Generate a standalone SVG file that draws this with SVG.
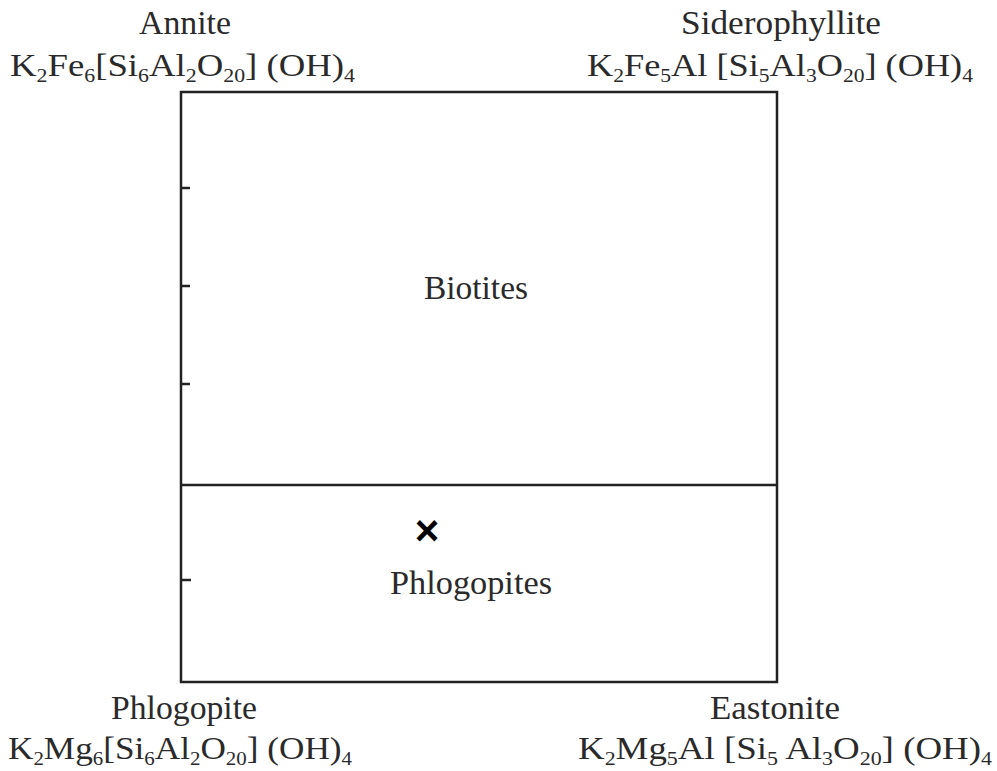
<svg xmlns="http://www.w3.org/2000/svg" width="997" height="771" viewBox="0 0 997 771">
<style>
text{font-family:"Liberation Serif","DejaVu Serif",serif;fill:#2a2a2a;font-size:32px}
.name{text-anchor:middle;font-size:33px}
.s{font-size:19px}
.frame{fill:none;stroke:#222;stroke-width:2.5}
.tick{stroke:#222;stroke-width:2.5}
</style>
<rect width="997" height="771" fill="#fff"/>
<g id="annite">
<text class="name" x="185" y="34" textLength="92" lengthAdjust="spacingAndGlyphs">Annite</text>
<text x="10" y="76" textLength="345" lengthAdjust="spacingAndGlyphs">K<tspan class="s" dy="6">2</tspan><tspan dy="-6">Fe</tspan><tspan class="s" dy="6">6</tspan><tspan dy="-6">[Si</tspan><tspan class="s" dy="6">6</tspan><tspan dy="-6">Al</tspan><tspan class="s" dy="6">2</tspan><tspan dy="-6">O</tspan><tspan class="s" dy="6">20</tspan><tspan dy="-6">] (OH)</tspan><tspan class="s" dy="6">4</tspan></text>
</g>
<g id="siderophyllite">
<text class="name" x="781" y="34" textLength="200" lengthAdjust="spacingAndGlyphs">Siderophyllite</text>
<text x="587" y="76" textLength="386" lengthAdjust="spacingAndGlyphs">K<tspan class="s" dy="6">2</tspan><tspan dy="-6">Fe</tspan><tspan class="s" dy="6">5</tspan><tspan dy="-6">Al [Si</tspan><tspan class="s" dy="6">5</tspan><tspan dy="-6">Al</tspan><tspan class="s" dy="6">3</tspan><tspan dy="-6">O</tspan><tspan class="s" dy="6">20</tspan><tspan dy="-6">] (OH)</tspan><tspan class="s" dy="6">4</tspan></text>
</g>
<g id="phlogopite">
<text class="name" x="184" y="719" textLength="146" lengthAdjust="spacingAndGlyphs">Phlogopite</text>
<text x="8" y="759" textLength="344" lengthAdjust="spacingAndGlyphs">K<tspan class="s" dy="6">2</tspan><tspan dy="-6">Mg</tspan><tspan class="s" dy="6">6</tspan><tspan dy="-6">[Si</tspan><tspan class="s" dy="6">6</tspan><tspan dy="-6">Al</tspan><tspan class="s" dy="6">2</tspan><tspan dy="-6">O</tspan><tspan class="s" dy="6">20</tspan><tspan dy="-6">] (OH)</tspan><tspan class="s" dy="6">4</tspan></text>
</g>
<g id="eastonite">
<text class="name" x="775" y="719" textLength="130" lengthAdjust="spacingAndGlyphs">Eastonite</text>
<text x="578" y="759" textLength="414" lengthAdjust="spacingAndGlyphs">K<tspan class="s" dy="6">2</tspan><tspan dy="-6">Mg</tspan><tspan class="s" dy="6">5</tspan><tspan dy="-6">Al [Si</tspan><tspan class="s" dy="6">5</tspan><tspan dy="-6"> Al</tspan><tspan class="s" dy="6">3</tspan><tspan dy="-6">O</tspan><tspan class="s" dy="6">20</tspan><tspan dy="-6">] (OH)</tspan><tspan class="s" dy="6">4</tspan></text>
</g>
<g id="diagram">
<rect class="frame" x="181" y="92" width="596" height="590"/>
<line class="tick" x1="181" y1="485" x2="777" y2="485"/>
<line class="tick" x1="181" y1="188" x2="190" y2="188"/>
<line class="tick" x1="181" y1="286" x2="190" y2="286"/>
<line class="tick" x1="181" y1="384" x2="190" y2="384"/>
<line class="tick" x1="181" y1="580" x2="191" y2="580"/>
</g>
<g id="biotites"><text class="name" x="476" y="299" textLength="104" lengthAdjust="spacingAndGlyphs">Biotites</text></g>
<g id="phlogopites"><text class="name" x="471" y="594" textLength="162" lengthAdjust="spacingAndGlyphs">Phlogopites</text></g>
<g id="marker"><text x="427" y="545" style="font-family:'Liberation Sans',sans-serif;font-size:42px;font-weight:bold;fill:#000;text-anchor:middle">×</text></g>
</svg>
